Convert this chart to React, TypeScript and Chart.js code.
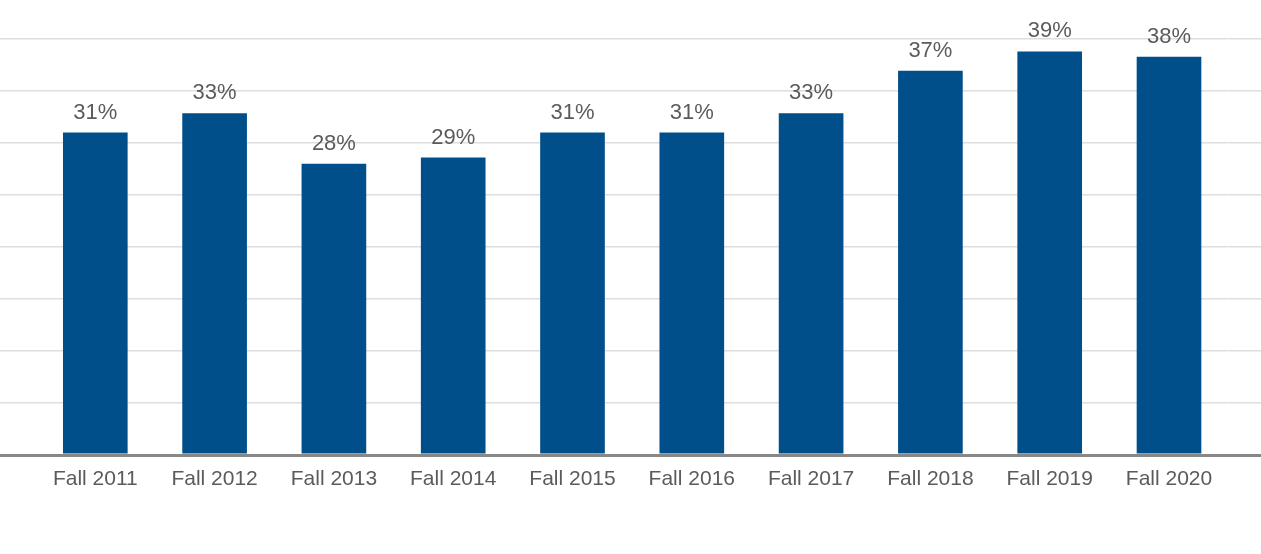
import React, { useEffect, useRef } from "react";
import { Chart, registerables } from "chart.js";

Chart.register(...registerables);

const categories = ["Fall 2011", "Fall 2012", "Fall 2013", "Fall 2014", "Fall 2015", "Fall 2016", "Fall 2017", "Fall 2018", "Fall 2019", "Fall 2020"];
const shareValues = [31.0, 32.85, 28.0, 28.6, 31.0, 31.0, 32.85, 36.95, 38.8, 38.3];
const yTicks = [0, 5, 10, 15, 20, 25, 30, 35, 40];

const FONT = "'Liberation Sans', Arial, sans-serif";
const TEXT_COLOR = "#5b5b5b";
const GRID_COLOR = "#dedede";
const BASE_COLOR = "#888888";

const valueLabels = {
  id: "valueLabels",
  afterDatasetsDraw(chart: any) {
    const ctx = chart.ctx;
    const meta = chart.getDatasetMeta(0);
    ctx.save();
    ctx.font = `22px ${FONT}`;
    ctx.fillStyle = TEXT_COLOR;
    ctx.textAlign = "center";
    ctx.textBaseline = "alphabetic";
    meta.data.forEach((bar: any, i: number) => {
      const v = chart.data.datasets[0].data[i] as number;
      ctx.fillText(`${Math.round(v)}%`, bar.x, bar.y - 14);
    });
    ctx.restore();
  },
};

export default function App() {
  const canvasRef = useRef<HTMLCanvasElement | null>(null);

  useEffect(() => {
    if (!canvasRef.current) return;
    const gridColor = (c: any) => (c.tick && c.tick.value === 0 ? BASE_COLOR : GRID_COLOR);
    const gridWidth = (c: any) => (c.tick && c.tick.value === 0 ? 3 : 1.5);
    const chart = new Chart(canvasRef.current, {
      type: "bar",
      data: {
        labels: categories,
        datasets: [
          {
            data: shareValues,
            backgroundColor: "#004f8b",
            borderWidth: 0,
            barPercentage: 1,
            categoryPercentage: 0.542,
          },
        ],
      },
      plugins: [valueLabels],
      options: {
        animation: false,
        responsive: true,
        maintainAspectRatio: false,
        layout: { padding: { top: 39, bottom: 0, left: 0, right: 0 } },
        plugins: { legend: { display: false }, tooltip: { enabled: false } },
        scales: {
          x: {
            z: 1,
            grid: { display: false, drawTicks: false },
            border: { display: true, color: BASE_COLOR, width: 3 },
            ticks: {
              color: TEXT_COLOR,
              font: { family: FONT, size: 21 },
              padding: 12,
              maxRotation: 0,
              autoSkip: false,
            },
            afterFit: (s: any) => {
              s.height = 99;
            },
          },
          y: {
            position: "left",
            min: 0,
            max: 40,
            afterBuildTicks: (s: any) => {
              s.ticks = yTicks.map((v) => ({ value: v }));
            },
            ticks: { display: false },
            border: { display: false },
            grid: {
              color: gridColor,
              lineWidth: gridWidth,
              tickColor: gridColor,
              tickWidth: gridWidth,
              drawTicks: true,
              tickLength: 36,
            },
            afterFit: (s: any) => {
              s.width = 35.65;
            },
          },
          y2: {
            position: "right",
            min: 0,
            max: 40,
            afterBuildTicks: (s: any) => {
              s.ticks = yTicks.map((v) => ({ value: v }));
            },
            ticks: { display: false },
            border: { display: false },
            grid: {
              drawOnChartArea: false,
              color: gridColor,
              lineWidth: gridWidth,
              tickColor: gridColor,
              tickWidth: gridWidth,
              drawTicks: true,
              tickLength: 33,
            },
            afterFit: (s: any) => {
              s.width = 32.35;
            },
          },
        },
      },
    });
    return () => chart.destroy();
  }, []);

  return (
    <div style={{ position: "absolute", left: 0, top: 0, width: 1261, height: 554, background: "#ffffff" }}>
      <canvas ref={canvasRef} />
    </div>
  );
}
